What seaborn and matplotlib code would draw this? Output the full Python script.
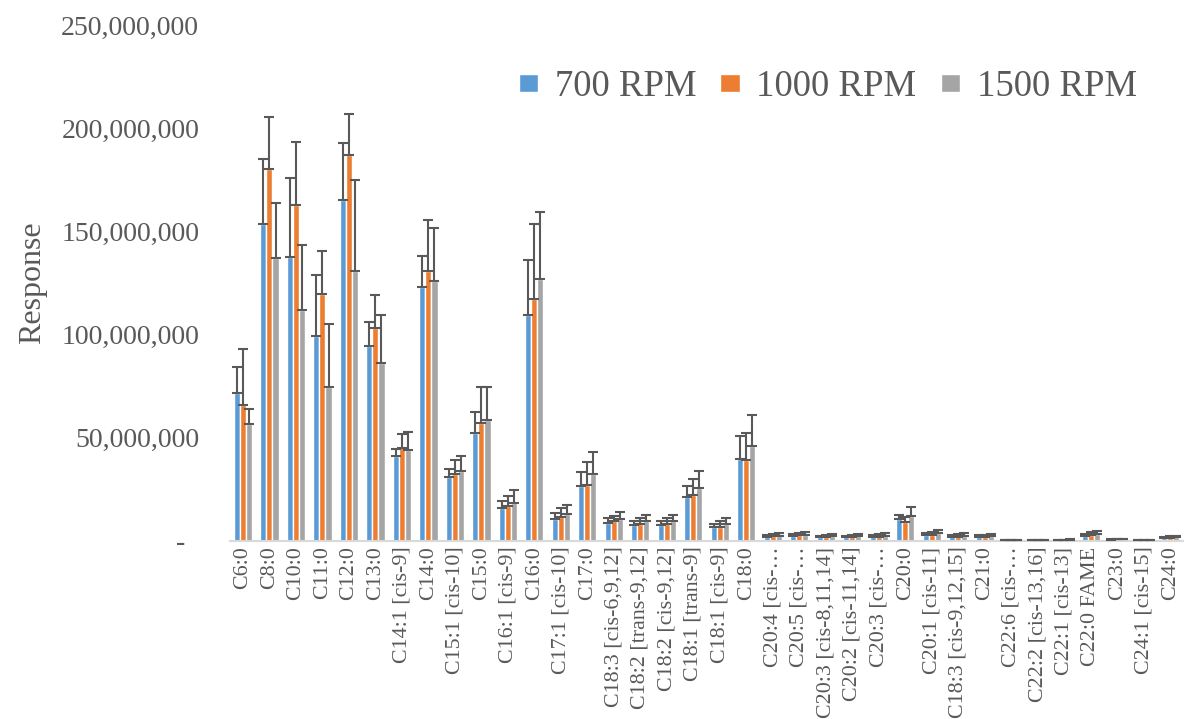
import matplotlib
matplotlib.use("Agg")
import matplotlib.pyplot as plt
import pandas as pd
import seaborn as sns
from matplotlib.ticker import FuncFormatter

# Fatty acid methyl esters (x categories)
compounds = [
    "C6:0", "C8:0", "C10:0", "C11:0", "C12:0", "C13:0", "C14:1 [cis-9]", "C14:0",
    "C15:1 [cis-10]", "C15:0", "C16:1 [cis-9]", "C16:0", "C17:1 [cis-10]", "C17:0",
    "C18:3 [cis-6,9,12]", "C18:2 [trans-9,12]", "C18:2 [cis-9,12]", "C18:1 [trans-9]",
    "C18:1 [cis-9]", "C18:0", "C20:4 [cis-…", "C20:5 [cis-…", "C20:3 [cis-8,11,14]",
    "C20:2 [cis-11,14]", "C20:3 [cis-…", "C20:0", "C20:1 [cis-11]", "C18:3 [cis-9,12,15]",
    "C21:0", "C22:6 [cis-…", "C22:2 [cis-13,16]", "C22:1 [cis-13]", "C22:0 FAME",
    "C23:0", "C24:1 [cis-15]", "C24:0",
]

# Mean response, millions
rpm700 = [71.6, 153.6, 137.7, 99.4, 165.4, 94.7, 41.0, 123.3, 30.8, 52.4, 15.9, 109.4,
          10.5, 26.6, 8.9, 7.8, 7.8, 21.4, 6.7, 39.5, 2.1, 2.4, 1.8, 1.8, 2.0, 10.5,
          2.9, 2.0, 2.0, 0.3, 0.4, 0.5, 2.6, 0.6, 0.3, 1.5]
rpm1000 = [65.9, 180.4, 162.8, 119.8, 187.2, 103.4, 44.9, 130.8, 32.5, 57.1, 17.0, 117.3,
           11.7, 27.0, 9.6, 8.1, 8.1, 22.5, 7.0, 39.2, 2.4, 2.8, 1.8, 2.0, 2.1, 9.1,
           2.9, 2.0, 2.0, 0.3, 0.4, 0.5, 2.8, 0.8, 0.3, 1.6]
rpm1500 = [56.6, 137.1, 112.0, 74.6, 130.6, 86.3, 44.0, 126.2, 33.8, 58.6, 18.4, 126.9,
           13.0, 32.4, 10.5, 9.6, 9.6, 25.9, 8.1, 46.0, 2.4, 3.1, 2.3, 2.3, 2.6, 12.3,
           3.7, 2.6, 2.6, 0.3, 0.4, 0.5, 3.5, 0.8, 0.3, 2.0]

# Upper error bar tops, millions
err700_top = [84.5, 185.3, 176.1, 129.0, 192.6, 106.3, 44.5, 138.2, 35.0, 62.6, 19.4, 136.3,
              13.6, 33.5, 11.2, 9.7, 9.7, 26.7, 8.4, 51.0, 2.8, 3.4, 2.4, 2.4, 2.8, 12.8,
              3.9, 2.8, 2.8, 0.5, 0.5, 0.7, 3.5, 1.0, 0.4, 2.1]
err1000_top = [93.1, 205.5, 193.5, 140.6, 207.1, 119.1, 51.9, 155.3, 39.3, 74.8, 21.8, 153.6,
               16.0, 38.3, 12.1, 11.2, 11.2, 29.9, 9.6, 52.4, 3.4, 3.9, 2.9, 2.9, 3.2, 11.7,
               4.4, 3.4, 3.1, 0.5, 0.5, 0.7, 4.2, 1.0, 0.4, 2.3]
err1500_top = [63.8, 163.8, 143.5, 105.0, 175.1, 109.4, 52.9, 151.6, 41.1, 74.8, 24.6, 159.5,
               17.3, 42.9, 13.8, 12.8, 12.8, 34.0, 11.0, 61.0, 3.9, 4.4, 3.2, 3.2, 3.7, 16.5,
               5.3, 3.7, 3.5, 0.5, 0.5, 0.8, 4.9, 1.1, 0.4, 2.6]

series = ["700 RPM", "1000 RPM", "1500 RPM"]
colors = ["#5B9BD5", "#ED7D31", "#A5A5A5"]
text_color = "#595959"

means = [rpm700, rpm1000, rpm1500]
tops = [err700_top, err1000_top, err1500_top]

rows = []
for s, vals, tp in zip(series, means, tops):
    for c, v, t in zip(compounds, vals, tp):
        rows.append({"compound": c, "speed": s, "response": v * 1e6, "err": (t - v) * 1e6})
df = pd.DataFrame(rows)

sns.set_theme(style="white")
plt.rcParams["font.family"] = ["Liberation Serif", "DejaVu Serif"]

fig = plt.figure(figsize=(11.87, 7.19), dpi=100)
ax = fig.add_axes([0.1935, 0.2476, 0.8035, 0.7176])

sns.barplot(data=df, x="compound", y="response", hue="speed", palette=colors,
            width=0.69, errorbar=None, saturation=1, ax=ax, order=compounds,
            hue_order=series)

# Upper-only error bars placed on each bar's center
for container, s in zip(ax.containers, series):
    sub = df[df["speed"] == s].set_index("compound").loc[compounds]
    xs = [p.get_x() + p.get_width() / 2 for p in container.patches]
    ax.errorbar(xs, sub["response"].values,
                yerr=[[0] * len(xs), sub["err"].values],
                fmt="none", ecolor="#595959", elinewidth=1.5, capsize=3.8,
                capthick=1.5, zorder=3)

ax.set_xlim(-0.5, len(compounds) - 0.5)
ax.set_ylim(0, 250e6)
ax.set_yticks([0, 50e6, 100e6, 150e6, 200e6, 250e6])
ax.yaxis.set_major_formatter(FuncFormatter(lambda v, p: "-  " if v == 0 else f"{v:,.0f}"))
ax.tick_params(axis="y", labelsize=20, colors=text_color, length=0, pad=22)
ax.tick_params(axis="x", labelsize=15.8, colors=text_color, length=0, rotation=90, pad=4)

ax.set_xlabel("")
ax.set_ylabel("Response", fontsize=23, color=text_color)
ax.yaxis.set_label_coords(-0.192, 0.5)

for side in ["top", "right", "left"]:
    ax.spines[side].set_visible(False)
ax.spines["bottom"].set_color("#D9D9D9")
ax.spines["bottom"].set_linewidth(1.5)

ax.legend(loc="center right", bbox_to_anchor=(0.951, 0.88), ncol=3, frameon=False,
          fontsize=26.5, labelcolor=text_color, handlelength=0.52, handleheight=0.38,
          handletextpad=0.46, columnspacing=0.65, borderaxespad=0, borderpad=0)

fig.savefig("out.png", dpi=100)
